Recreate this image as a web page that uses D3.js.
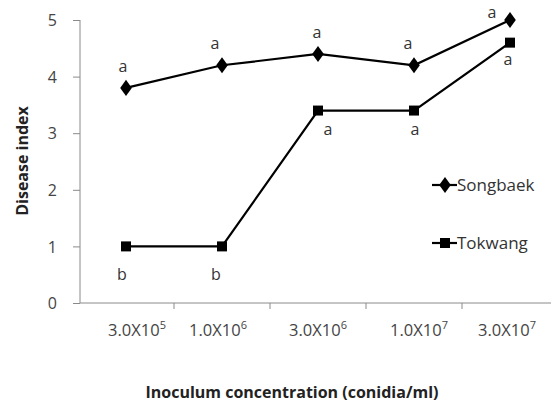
<!DOCTYPE html>
<html>
<head>
<meta charset="utf-8">
<script src="https://cdn.jsdelivr.net/npm/d3@7"></script>
<style>
  body { margin: 0; background: #fff; }
  text { font-family: "Open Sans", "Liberation Sans", sans-serif; }
</style>
</head>
<body>
<script>
// categories and tick labels (base, exponent)
var concentrations = ["3.0X10^5", "1.0X10^6", "3.0X10^6", "1.0X10^7", "3.0X10^7"];
var tickBase = ["3.0X10", "1.0X10", "3.0X10", "1.0X10", "3.0X10"];
var tickExp = ["5", "6", "6", "7", "7"];
var yTicks = [0, 1, 2, 3, 4, 5];

// series values
var songbaek = [3.8, 4.2, 4.4, 4.2, 5.0];
var tokwang = [1.0, 1.0, 3.4, 3.4, 4.6];

// significance letters
var songbaekLetters = ["a", "a", "a", "a", "a"];
var tokwangLetters = ["b", "b", "a", "a", "a"];

// small label nudges (layout only)
var xLabelShift = [11, -4, 0, 5, -3];
var sbShift = [-3, -7, -1, -6, -18];
var tkShift = [-4, -6, 10, 1, -2];

var W = 551, H = 404;
var svg = d3.select("body").append("svg")
    .attr("width", W)
    .attr("height", H);

// scales
var x = d3.scaleBand()
    .domain(concentrations)
    .range([78, 558])
    .padding(0);

var y = d3.scaleLinear()
    .domain([0, 5])
    .range([303, 20]);

function cx(d, i) { return x(concentrations[i]) + x.bandwidth() / 2; }

// y axis
var yAxis = svg.append("g")
    .attr("transform", "translate(80,0)")
    .call(d3.axisLeft(y).tickValues(yTicks).tickSize(7).tickPadding(16).tickFormat(d3.format("d")));
yAxis.select(".domain").attr("stroke", "#8a8a8a").attr("d", "M0," + y(5) + "V" + y(0));
yAxis.selectAll(".tick line").attr("stroke", "#8a8a8a");
yAxis.selectAll(".tick text")
    .attr("fill", "#444")
    .style("font-size", "16px")
    .attr("dy", "0.35em");

// x axis
var xAxis = svg.append("g")
    .attr("transform", "translate(0," + y(0) + ")")
    .call(d3.axisBottom(x).tickSize(0).tickFormat(""));
xAxis.select(".domain").attr("stroke", "#8a8a8a").attr("d", "M80,0H551");

// tick marks between categories
xAxis.selectAll(".sep")
    .data(concentrations.slice(1))
    .enter()
    .append("line")
    .attr("class", "sep")
    .attr("x1", function(d) { return x(d); })
    .attr("x2", function(d) { return x(d); })
    .attr("y1", 0)
    .attr("y2", 6)
    .attr("stroke", "#8a8a8a");

// x tick labels with superscript exponents
var xl = svg.selectAll(".xlab")
    .data(concentrations)
    .enter()
    .append("text")
    .attr("class", "xlab")
    .attr("x", function(d, i) { return cx(d, i) + xLabelShift[i]; })
    .attr("y", 336)
    .attr("text-anchor", "middle")
    .attr("fill", "#444")
    .style("font-size", "16.5px");
xl.append("tspan").text(function(d, i) { return tickBase[i]; });
xl.append("tspan")
    .attr("dy", -7)
    .style("font-size", "11px")
    .text(function(d, i) { return tickExp[i]; });

// axis titles
svg.append("text")
    .attr("x", 292)
    .attr("y", 398)
    .attr("text-anchor", "middle")
    .style("font-size", "16px")
    .style("font-weight", "bold")
    .attr("fill", "#222")
    .text("Inoculum concentration (conidia/ml)");

svg.append("text")
    .attr("transform", "translate(28,161) rotate(-90)")
    .attr("text-anchor", "middle")
    .style("font-size", "16px")
    .style("font-weight", "bold")
    .attr("fill", "#222")
    .text("Disease index");

// lines
var line = d3.line()
    .x(function(d, i) { return cx(d, i); })
    .y(function(d) { return y(d); });

svg.append("path")
    .datum(songbaek)
    .attr("d", line)
    .attr("fill", "none")
    .attr("stroke", "#000")
    .attr("stroke-width", 2.2);

svg.append("path")
    .datum(tokwang)
    .attr("d", line)
    .attr("fill", "none")
    .attr("stroke", "#000")
    .attr("stroke-width", 2.2);

var diamond = d3.symbol().type(d3.symbolDiamond).size(75);
var square = d3.symbol().type(d3.symbolSquare).size(100);

svg.selectAll(".sb")
    .data(songbaek)
    .enter()
    .append("path")
    .attr("class", "sb")
    .attr("d", diamond)
    .attr("transform", function(d, i) { return "translate(" + cx(d, i) + "," + y(d) + ") scale(1.25,1)"; })
    .attr("fill", "#000");

svg.selectAll(".tk")
    .data(tokwang)
    .enter()
    .append("path")
    .attr("class", "tk")
    .attr("d", square)
    .attr("transform", function(d, i) { return "translate(" + cx(d, i) + "," + y(d) + ")"; })
    .attr("fill", "#000");

// letters
svg.selectAll(".sbl")
    .data(songbaek)
    .enter()
    .append("text")
    .attr("class", "sbl")
    .attr("x", function(d, i) { return cx(d, i) + sbShift[i]; })
    .attr("y", function(d, i) { return y(d) - (i === 4 ? 2 : 16); })
    .attr("text-anchor", "middle")
    .attr("fill", "#333")
    .style("font-size", "16px")
    .text(function(d, i) { return songbaekLetters[i]; });

svg.selectAll(".tkl")
    .data(tokwang)
    .enter()
    .append("text")
    .attr("class", "tkl")
    .attr("x", function(d, i) { return cx(d, i) + tkShift[i]; })
    .attr("y", function(d, i) { return y(d) + (i < 2 ? 34 : (i === 4 ? 22 : 24)); })
    .attr("text-anchor", "middle")
    .attr("fill", "#333")
    .style("font-size", "16px")
    .text(function(d, i) { return tokwangLetters[i]; });

// legend
var legend = [
    { name: "Songbaek", sym: diamond, sx: 1.25, y: 185 },
    { name: "Tokwang", sym: square, sx: 1, y: 243 }
];
var lg = svg.selectAll(".lg")
    .data(legend)
    .enter()
    .append("g")
    .attr("transform", function(d) { return "translate(432," + d.y + ")"; });
lg.append("line")
    .attr("x1", 0).attr("x2", 25)
    .attr("stroke", "#000")
    .attr("stroke-width", 2.2);
lg.append("path")
    .attr("d", function(d) { return d.sym(); })
    .attr("transform", function(d) { return "translate(13,0) scale(" + d.sx + ",1)"; })
    .attr("fill", "#000");
lg.append("text")
    .attr("x", 25)
    .attr("dy", "0.35em")
    .attr("fill", "#333")
    .style("font-size", "17px")
    .text(function(d) { return d.name; });
</script>
</body>
</html>
